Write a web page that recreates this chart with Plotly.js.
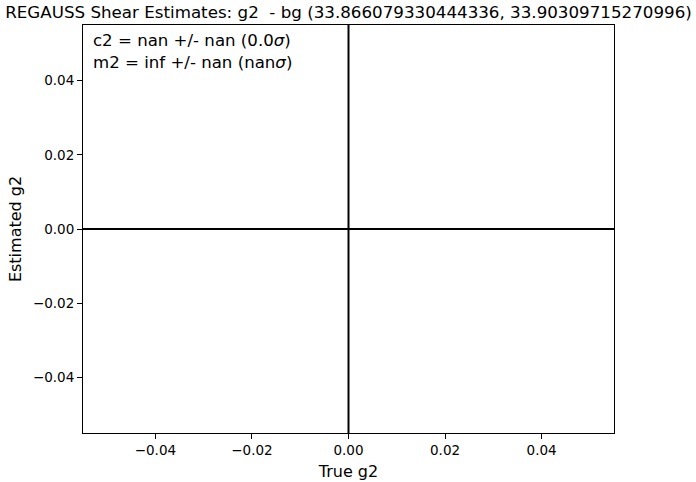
<!DOCTYPE html>
<html>
<head>
<meta charset="utf-8">
<script src="https://cdn.plot.ly/plotly-3.0.1.min.js"></script>
<style>
  html, body { margin: 0; padding: 0; background: #fff; }
  #chart { width: 696px; height: 482px; }
</style>
</head>
<body>
<div id="chart"></div>
<script>
// No shear measurements survived the cuts, so the scatter is empty
const trueG2 = [];
const estG2 = [];
const zeroLines = [0];
const axisRange = [-0.055, 0.055];
const tickVals = [-0.04, -0.02, 0, 0.02, 0.04];

const titleText = 'REGAUSS Shear Estimates: g2 \u00a0- bg (33.866079330444336, 33.90309715270996)';
const fitText = 'c2 = nan +/- nan (0.0<i>σ</i>)<br>m2 = inf +/- nan (nan<i>σ</i>)';

const font = 'DejaVu Sans, sans-serif';

const traces = [{
    x: trueG2,
    y: estG2,
    mode: 'markers',
    type: 'scatter',
    marker: { color: '#1f77b4', size: 6 },
    showlegend: false
}];

// axhline / axvline equivalents
const shapes = [];
zeroLines.forEach(v => {
    shapes.push({ type: 'line', xref: 'paper', yref: 'y', x0: 0, x1: 1, y0: v, y1: v,
                  line: { color: '#000', width: 2 } });
    shapes.push({ type: 'line', xref: 'x', yref: 'paper', x0: v, x1: v, y0: 0, y1: 1,
                  line: { color: '#000', width: 2 } });
});

const axisCommon = {
    range: axisRange,
    tickvals: tickVals,
    tickformat: '.2f',
    ticks: 'outside',
    ticklen: 5,
    tickwidth: 1,
    tickcolor: '#000',
    showgrid: false,
    zeroline: false,
    showline: true,
    mirror: true,
    linecolor: '#000',
    linewidth: 1,
    tickfont: { family: font, size: 13.5, color: '#000' }
};

const layout = {
    width: 696,
    height: 482,
    margin: { l: 83, r: 82, t: 25, b: 49 },
    paper_bgcolor: '#fff',
    plot_bgcolor: '#fff',
    font: { family: font, color: '#000' },
    title: {
        text: titleText,
        font: { family: font, size: 16.7, color: '#000' },
        x: 348 / 696, xanchor: 'center', xref: 'paper',
        y: 1 - 12 / 482, yanchor: 'middle'
    },
    xaxis: Object.assign({}, axisCommon, {
        title: { text: 'True g2', font: { family: font, size: 16, color: '#000' }, standoff: 8 }
    }),
    yaxis: Object.assign({}, axisCommon, {
        title: { text: 'Estimated g2', font: { family: font, size: 16, color: '#000' }, standoff: 7 }
    }),
    shapes: shapes,
    annotations: [{
        xref: 'paper', yref: 'paper',
        x: 0.016, y: 0.99,
        xanchor: 'left', yanchor: 'top',
        align: 'left',
        showarrow: false,
        text: fitText,
        font: { family: font, size: 16.6, color: '#000' }
    }],
    showlegend: false
};

Plotly.newPlot('chart', traces, layout, { displayModeBar: false, staticPlot: true });
</script>
</body>
</html>
